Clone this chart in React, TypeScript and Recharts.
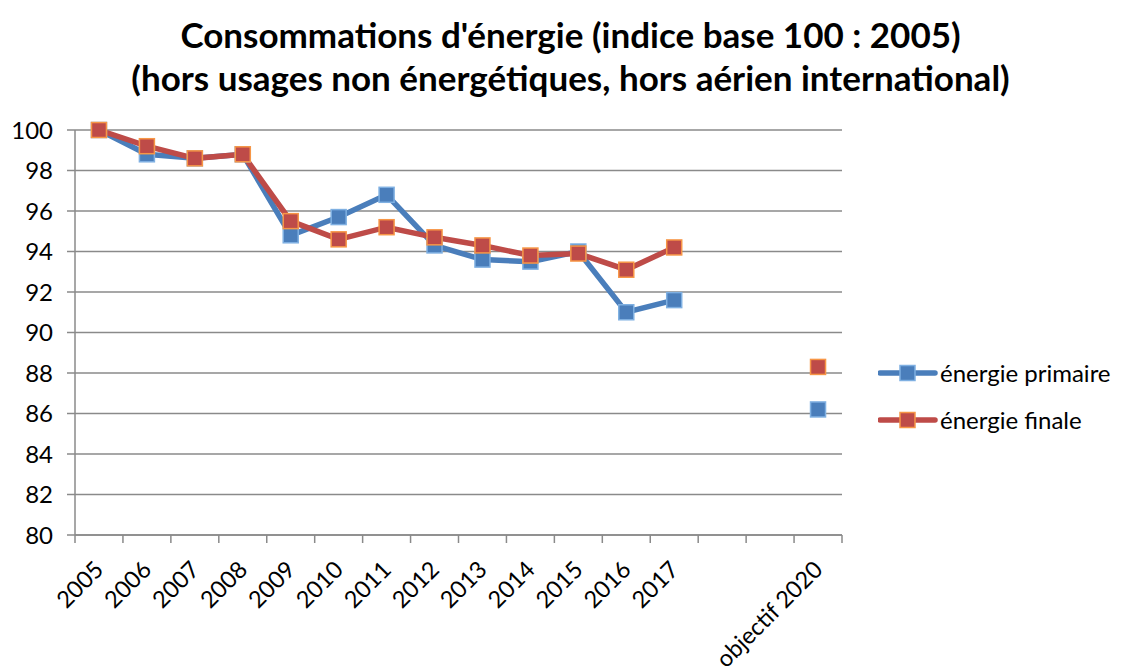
import React from "react";
import {
  LineChart,
  Line,
  XAxis,
  YAxis,
  CartesianGrid,
  Legend,
} from "recharts";

const categories = [
  "2005", "2006", "2007", "2008", "2009", "2010", "2011", "2012",
  "2013", "2014", "2015", "2016", "2017", "", "", "objectif 2020",
];
const primaire = [100, 98.8, 98.6, 98.8, 94.8, 95.7, 96.8, 94.3, 93.6, 93.5, 94.0, 91.0, 91.6, null, null, 86.2];
const finale = [100, 99.2, 98.6, 98.8, 95.5, 94.6, 95.2, 94.7, 94.3, 93.8, 93.9, 93.1, 94.2, null, null, 88.3];
const yTicks = [80, 82, 84, 86, 88, 90, 92, 94, 96, 98, 100];
const seriesNames = ["énergie primaire", "énergie finale"];

const data = categories.map((cat, i) => ({
  cat,
  pos: i + 0.5,
  primaire: primaire[i],
  finale: finale[i],
}));

// boundaries for tick marks, centres for labels
const xTicks: number[] = [];
for (let i = 0; i <= categories.length; i++) {
  xTicks.push(i);
  if (i < categories.length) xTicks.push(i + 0.5);
}

const FONT = "Lato, 'Open Sans', sans-serif";
const GRID = "#8a8a8a";
const BLUE = "#4a7ebb";
const BLUE_EDGE = "#7fb0e2";
const RED = "#be4b48";
const RED_EDGE = "#f79646";

function XTick(props: any) {
  const { x, y, payload } = props;
  const v = payload.value as number;
  if (Number.isInteger(v)) {
    return <line x1={x} y1={y} x2={x} y2={y + 8} stroke={GRID} strokeWidth={1.5} />;
  }
  const label = categories[Math.floor(v)];
  const ex = x + 6;
  const ey = y + 36;
  return (
    <text
      x={ex}
      y={ey}
      transform={`rotate(-45 ${ex} ${ey})`}
      textAnchor="end"
      fontSize={23.5}
      fontFamily={FONT}
      fill="#000"
    >
      {label}
    </text>
  );
}

function SquareDot(fill: string, edge: string) {
  return (props: any) => {
    const { cx, cy, value, index } = props;
    if (value == null || cx == null || cy == null) return <g key={index} />;
    return (
      <rect
        key={index}
        x={cx - 7.5}
        y={cy - 7.5}
        width={15}
        height={15}
        fill={fill}
        stroke={edge}
        strokeWidth={1.5}
      />
    );
  };
}

const legendStyle: Record<string, { fill: string; edge: string }> = {
  "énergie primaire": { fill: BLUE, edge: BLUE_EDGE },
  "énergie finale": { fill: RED, edge: RED_EDGE },
};

function LegendBox(props: any) {
  const items = [...(props.payload || [])].sort(
    (a: any, b: any) => seriesNames.indexOf(a.value) - seriesNames.indexOf(b.value)
  );
  return (
    <div style={{ fontFamily: FONT }}>
      {items.map((it: any) => {
        const s = legendStyle[it.value];
        return (
          <div
            key={it.value}
            style={{ display: "flex", alignItems: "center", height: 47 }}
          >
            <svg width={62} height={20}>
              <line x1={2} y1={10} x2={57} y2={10} stroke={s.fill} strokeWidth={5.5} strokeLinecap="round" />
              <rect x={22} y={2.5} width={15} height={15} fill={s.fill} stroke={s.edge} strokeWidth={1.5} />
            </svg>
            <span style={{ fontSize: 24, color: "#000" }}>{it.value}</span>
          </div>
        );
      })}
    </div>
  );
}

export default function App() {
  return (
    <div style={{ position: "relative", width: 1121, height: 666, background: "#fff", overflow: "hidden" }}>
      <style>{"body{margin:0}"}</style>
      <div
        style={{
          position: "absolute",
          top: 13,
          left: 0,
          width: 1141,
          textAlign: "center",
          fontFamily: FONT,
          fontWeight: 700,
          fontSize: 35,
          lineHeight: "43px",
          color: "#000",
          zIndex: 2,
        }}
      >
        Consommations d'énergie (indice base 100 : 2005)
        <br />
        (hors usages non énergétiques, hors aérien international)
      </div>
      <LineChart
        width={1121}
        height={666}
        data={data}
        margin={{ top: 130, right: 279, bottom: 0, left: 0 }}
      >
        <CartesianGrid vertical={false} stroke={GRID} strokeWidth={1.5} />
        <XAxis
          type="number"
          dataKey="pos"
          domain={[0, categories.length]}
          ticks={xTicks}
          interval={0}
          height={131}
          tickSize={0}
          tickMargin={0}
          tickLine={false}
          axisLine={{ stroke: GRID, strokeWidth: 1.5 }}
          tick={<XTick />}
        />
        <YAxis
          type="number"
          domain={[80, 100]}
          ticks={yTicks}
          interval={0}
          width={75}
          tickSize={8}
          tickMargin={14}
          tickLine={{ stroke: GRID, strokeWidth: 1.5 }}
          axisLine={{ stroke: GRID, strokeWidth: 1.5 }}
          tick={{ fill: "#000", fontSize: 24, fontFamily: FONT }}
        />
        <Legend
          layout="vertical"
          align="center"
          verticalAlign="middle"
          content={<LegendBox />}
          wrapperStyle={{ left: 878, top: 349, width: 243 }}
        />
        <Line
          type="linear"
          dataKey="primaire"
          name="énergie primaire"
          stroke={BLUE}
          strokeWidth={5.5}
          dot={SquareDot(BLUE, BLUE_EDGE)}
          activeDot={false}
          connectNulls={false}
          isAnimationActive={false}
        />
        <Line
          type="linear"
          dataKey="finale"
          name="énergie finale"
          stroke={RED}
          strokeWidth={5.5}
          dot={SquareDot(RED, RED_EDGE)}
          activeDot={false}
          connectNulls={false}
          isAnimationActive={false}
        />
      </LineChart>
    </div>
  );
}
